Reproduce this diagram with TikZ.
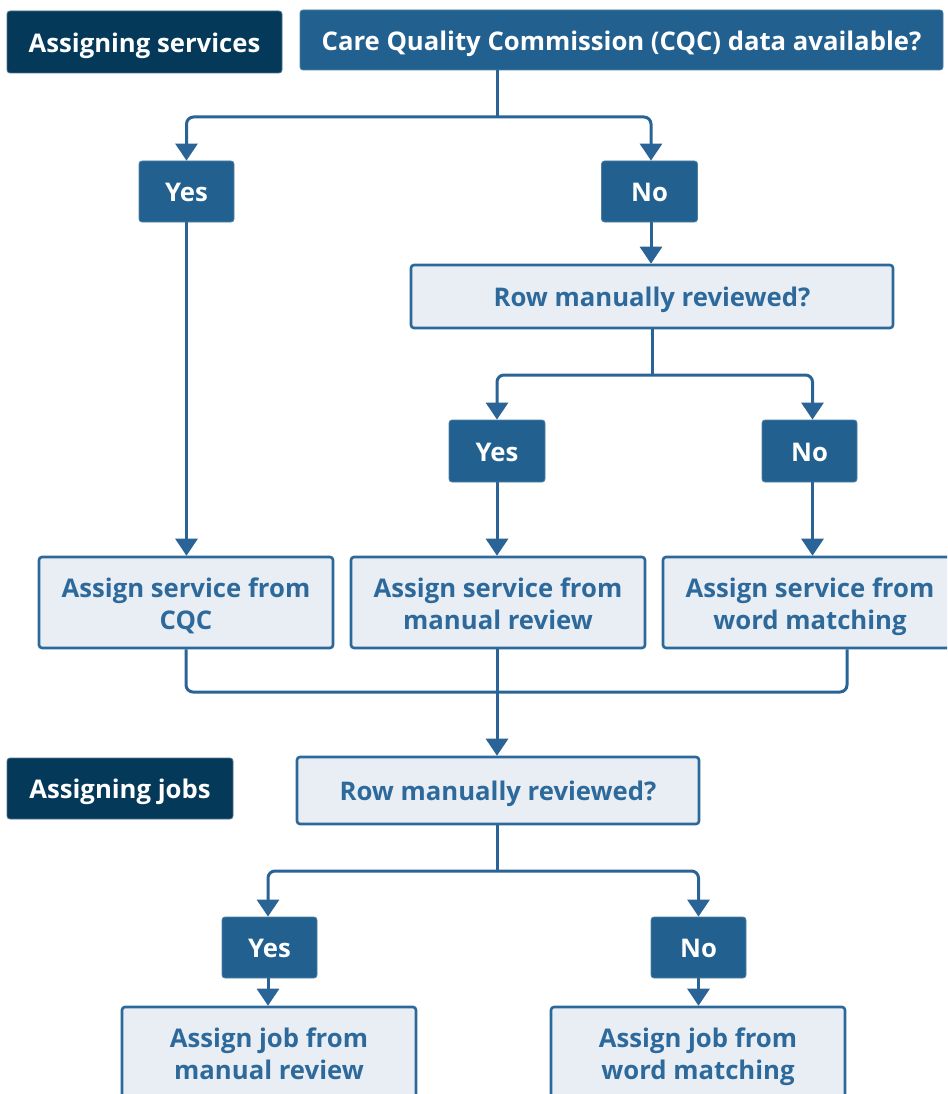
\documentclass[tikz,border=0pt]{standalone}
\usepackage{fontspec}
\setmainfont{Open Sans}
\usetikzlibrary{arrows.meta}
\definecolor{navy}{HTML}{04395A}
\definecolor{midblue}{HTML}{22608F}
\definecolor{lightfill}{HTML}{E9EEF5}
\definecolor{edgeblue}{HTML}{2C6899}
\definecolor{lighttext}{HTML}{2D6A9B}
\definecolor{linecol}{HTML}{2A6496}
\tikzset{
  every node/.style={font=\fontsize{25.7}{32}\selectfont\bfseries, align=center, inner sep=0pt, text depth=0pt, text height=20.5pt},
  twoline/.style={text height=53.5pt},
  headbox/.style={fill=navy, text=white, draw=navy!70!white, line width=0.8pt, rounded corners=3pt},
  darkbox/.style={fill=midblue, text=white, draw=midblue!80!white, line width=0.8pt, rounded corners=3pt},
  lightbox/.style={fill=lightfill, text=lighttext, draw=edgeblue, line width=2.6pt, rounded corners=3pt},
  conn/.style={draw=linecol, line width=3pt, rounded corners=7pt},
  arr/.style={conn, -{Triangle[width=22pt,length=17pt]}},
}
\begin{document}
\begin{tikzpicture}[x=1pt,y=1pt]
\useasboundingbox (0,0) rectangle (947,-1094);
\clip (0,0) rectangle (947,-1094);
% header nodes
\node[headbox, minimum width=275pt, minimum height=62pt] (h1) at (144.5,-42) {Assigning services};
\node[darkbox, minimum width=643pt, minimum height=60pt] (cqc) at (621.5,-40) {Care Quality Commission (CQC) data available?};
\node[darkbox, minimum width=95pt, minimum height=61pt] (yes1) at (186.5,-191.5) {Yes};
\node[darkbox, minimum width=96pt, minimum height=61pt] (no1) at (649.5,-191.5) {No};
\node[lightbox, minimum width=482pt, minimum height=63pt] (rev1) at (652,-296.5) {Row manually reviewed?};
\node[darkbox, minimum width=96pt, minimum height=62pt] (yes2) at (497,-451) {Yes};
\node[darkbox, minimum width=95pt, minimum height=62pt] (no2) at (809.5,-451) {No};
\node[lightbox, twoline, minimum width=294pt, minimum height=91pt] (svc1) at (186,-602.5) {Assign service from\\CQC};
\node[lightbox, twoline, minimum width=294pt, minimum height=91pt] (svc2) at (498,-602.5) {Assign service from\\manual review};
\node[lightbox, twoline, minimum width=294pt, minimum height=91pt] (svc3) at (810,-602.5) {Assign service from\\word matching};
\node[headbox, minimum width=226pt, minimum height=61pt] (h2) at (120,-788.5) {Assigning jobs};
\node[lightbox, minimum width=402pt, minimum height=67pt] (rev2) at (498,-790.5) {Row manually reviewed?};
\node[darkbox, minimum width=95pt, minimum height=61pt] (yes3) at (269.5,-947.5) {Yes};
\node[darkbox, minimum width=95pt, minimum height=61pt] (no3) at (698.5,-947.5) {No};
\node[lightbox, twoline, minimum width=294pt, minimum height=92pt] (job1) at (269,-1053) {Assign job from\\manual review};
\node[lightbox, twoline, minimum width=294pt, minimum height=92pt] (job2) at (698,-1053) {Assign job from\\word matching};
% junctions
\coordinate (j1) at (497,-117);
\coordinate (j2) at (652,-375);
\coordinate (j3) at (497,-692);
\coordinate (m3) at (847,-600);
\coordinate (j4) at (497,-871);
% connectors
\draw[conn] (cqc.south -| j1) -- (j1);
\draw[arr] (j1) -| (yes1.north);
\draw[arr] (j1) -| ([xshift=1.5pt]no1.north);
\draw[arr] ([xshift=1.5pt]no1.south) -- ([xshift=1.5pt]no1.south |- rev1.north);
\draw[conn] (rev1.south) -- (j2);
\draw[arr] (j2) -| (yes2.north);
\draw[arr] (j2) -| ([xshift=3pt]no2.north);
\draw[arr] (yes1.south) -- (yes1.south |- svc1.north);
\draw[arr] (yes2.south) -- (yes2.south |- svc2.north);
\draw[arr] ([xshift=3pt]no2.south) -- ([xshift=3pt]no2.south |- svc3.north);
\draw[conn] (svc1.south) |- (j3);
\draw[conn] (svc3.south -| m3) |- (j3);
\draw[conn] (svc2.south -| j3) -- (j3);
\draw[arr] (j3) -- (rev2.north -| j3);
\draw[conn] (rev2.south -| j4) -- (j4);
\draw[arr] (j4) -| ([xshift=-1.5pt]yes3.north);
\draw[arr] (j4) -| (no3.north);
\draw[arr] ([xshift=-1.5pt]yes3.south) -- ([xshift=-1.5pt]yes3.south |- job1.north);
\draw[arr] (no3.south) -- (no3.south |- job2.north);
\end{tikzpicture}
\end{document}
